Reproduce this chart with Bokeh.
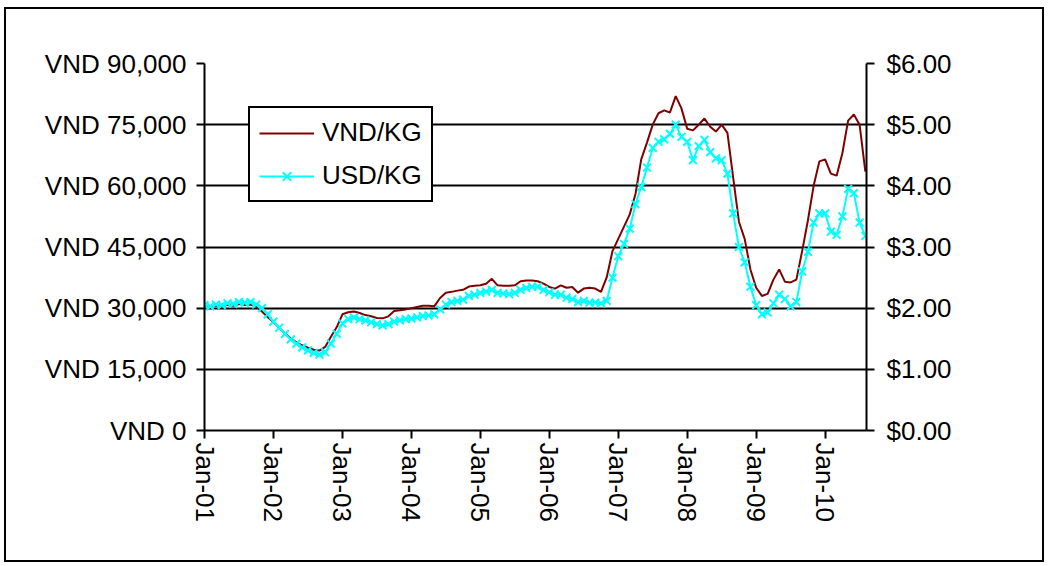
from bokeh.plotting import figure
from bokeh.models import (Range1d, LinearAxis, FixedTicker, ColumnDataSource,
                          Legend, LegendItem, NumeralTickFormatter)
from bokeh.embed import file_html
from bokeh.resources import INLINE

# ---------------- data (monthly, Jan-2001 .. Aug-2010) ----------------
month_index = list(range(116))

vnd_per_kg = [
    30500, 30300, 30600, 30400, 30800, 30600, 31000, 30800, 30900, 30400, 29200, 27800,   # 2001
    26600, 25200, 23800, 22600, 21600, 20900, 20300, 19800, 19600, 20500, 23000, 25300,   # 2002
    28500, 29000, 29200, 28800, 28300, 28000, 27600, 27500, 28000, 29300, 29500, 29700,   # 2003
    30000, 30300, 30600, 30600, 30500, 32500, 33800, 34000, 34300, 34500, 35300, 35500,   # 2004
    35600, 36000, 37200, 35600, 35500, 35500, 35600, 36600, 36800, 36800, 36600, 36000,   # 2005
    35200, 34800, 35600, 35000, 35200, 33800, 34800, 35000, 34800, 34000, 37600, 44000,   # 2006
    47000, 50000, 53000, 58000, 66500, 70600, 75000, 77800, 78500, 78000, 82000, 79000,   # 2007
    74000, 73600, 75000, 76500, 74500, 73300, 75000, 73000, 62000, 51200, 47000, 39500,   # 2008
    35000, 33000, 33500, 37000, 39500, 36500, 36300, 37000, 44000, 51500, 60000, 66000,   # 2009
    66500, 63000, 62500, 68000, 76000, 77500, 75000, 63500,                               # 2010
]

usd_per_kg = [
    2.05, 2.03, 2.06, 2.05, 2.08, 2.07, 2.10, 2.09, 2.10, 2.06, 2.00, 1.90,   # 2001
    1.78, 1.68, 1.58, 1.49, 1.42, 1.36, 1.31, 1.27, 1.24, 1.28, 1.42, 1.58,   # 2002
    1.75, 1.82, 1.85, 1.82, 1.80, 1.77, 1.74, 1.72, 1.74, 1.78, 1.80, 1.82,   # 2003
    1.83, 1.85, 1.87, 1.88, 1.90, 1.98, 2.06, 2.10, 2.12, 2.14, 2.20, 2.22,   # 2004
    2.25, 2.27, 2.30, 2.25, 2.24, 2.23, 2.25, 2.30, 2.33, 2.35, 2.35, 2.30,   # 2005
    2.26, 2.22, 2.22, 2.17, 2.15, 2.10, 2.12, 2.09, 2.09, 2.08, 2.12, 2.50,   # 2006
    2.85, 3.05, 3.30, 3.70, 3.98, 4.30, 4.62, 4.72, 4.76, 4.85, 5.00, 4.80,   # 2007
    4.72, 4.42, 4.65, 4.75, 4.55, 4.45, 4.42, 4.20, 3.55, 3.00, 2.75, 2.35,   # 2008
    2.05, 1.90, 1.93, 2.08, 2.22, 2.15, 2.03, 2.10, 2.60, 2.92, 3.40, 3.55,   # 2009
    3.55, 3.25, 3.20, 3.50, 3.95, 3.88, 3.40, 3.18,                           # 2010
]

x_tick_months = [0, 12, 24, 36, 48, 60, 72, 84, 96, 108]
x_tick_labels = ["Jan-01", "Jan-02", "Jan-03", "Jan-04", "Jan-05",
                 "Jan-06", "Jan-07", "Jan-08", "Jan-09", "Jan-10"]
vnd_ticks = [0, 15000, 30000, 45000, 60000, 75000, 90000]
vnd_tick_labels = ["VND 0", "VND 15,000", "VND 30,000", "VND 45,000",
                   "VND 60,000", "VND 75,000", "VND 90,000"]
usd_ticks = [0, 1, 2, 3, 4, 5, 6]
series_names = ["VND/KG", "USD/KG"]

# ---------------- figure ----------------
FONT = "Liberation Sans"
OX, OY = 6, 9          # content offset produced by margin + border
W, H = 1040, 555
p = figure(width=W, height=H, output_backend="svg", toolbar_location=None,
           x_range=Range1d(0, 115.2), y_range=Range1d(0, 90000),
           min_border_left=204 - OX, min_border_right=(OX + W) - 866,
           min_border_top=63 - OY, min_border_bottom=(OY + H) - 430)
p.styles = {"border": "2px solid black", "margin": "7px 0px 0px 4px"}
p.outline_line_color = None
p.background_fill_color = "white"
p.border_fill_color = "white"
p.extra_y_ranges = {"usd": Range1d(0, 6)}

src = ColumnDataSource(dict(m=month_index, vnd=vnd_per_kg, usd=usd_per_kg))

r_vnd = p.line("m", "vnd", source=src, line_color="#800000", line_width=2)
r_usd_l = p.line("m", "usd", source=src, line_color="#00FFFF", line_width=2,
                 y_range_name="usd")
r_usd_m = p.scatter("m", "usd", source=src, marker="x", size=11,
                    line_color="#00FFFF", line_width=2, y_range_name="usd")

# grid
p.xgrid.visible = False
p.ygrid.ticker = FixedTicker(ticks=vnd_ticks)
p.ygrid.grid_line_color = "black"
p.ygrid.grid_line_width = 2

def style_axis(ax):
    ax.axis_line_color = "black"
    ax.axis_line_width = 2
    ax.major_tick_line_color = "black"
    ax.major_tick_line_width = 2
    ax.major_tick_out = 8
    ax.major_tick_in = 0
    ax.minor_tick_line_color = None
    ax.major_label_text_font = FONT
    ax.major_label_text_font_size = "26px"
    ax.major_label_text_color = "black"

# left axis
yl = p.yaxis[0]
yl.ticker = FixedTicker(ticks=vnd_ticks)
yl.major_label_overrides = {t: s for t, s in zip(vnd_ticks, vnd_tick_labels)}
yl.major_label_standoff = 10
style_axis(yl)

# right axis
yr = LinearAxis(y_range_name="usd", ticker=FixedTicker(ticks=usd_ticks),
                formatter=NumeralTickFormatter(format="$0.00"))
style_axis(yr)
yr.major_label_standoff = 12
p.add_layout(yr, "right")

# bottom axis
xa = p.xaxis[0]
xa.ticker = FixedTicker(ticks=x_tick_months)
xa.major_label_overrides = {t: s for t, s in zip(x_tick_months, x_tick_labels)}
xa.major_label_orientation = "vertical"
xa.major_label_standoff = 4
style_axis(xa)

# legend
legend = Legend(items=[LegendItem(label=series_names[0], renderers=[r_vnd]),
                       LegendItem(label=series_names[1], renderers=[r_usd_l, r_usd_m])],
                location=(44, 228))
legend.border_line_color = "black"
legend.border_line_alpha = 1.0
legend.border_line_width = 2
legend.background_fill_color = "white"
legend.background_fill_alpha = 1
legend.label_text_font = FONT
legend.label_text_font_size = "26px"
legend.label_text_color = "black"
legend.glyph_width = 55
legend.glyph_height = 30
legend.label_height = 30
legend.label_standoff = 8
legend.padding = 9
legend.spacing = 12
legend.margin = 0
p.add_layout(legend)

open("out.html", "w").write(file_html(p, INLINE))
